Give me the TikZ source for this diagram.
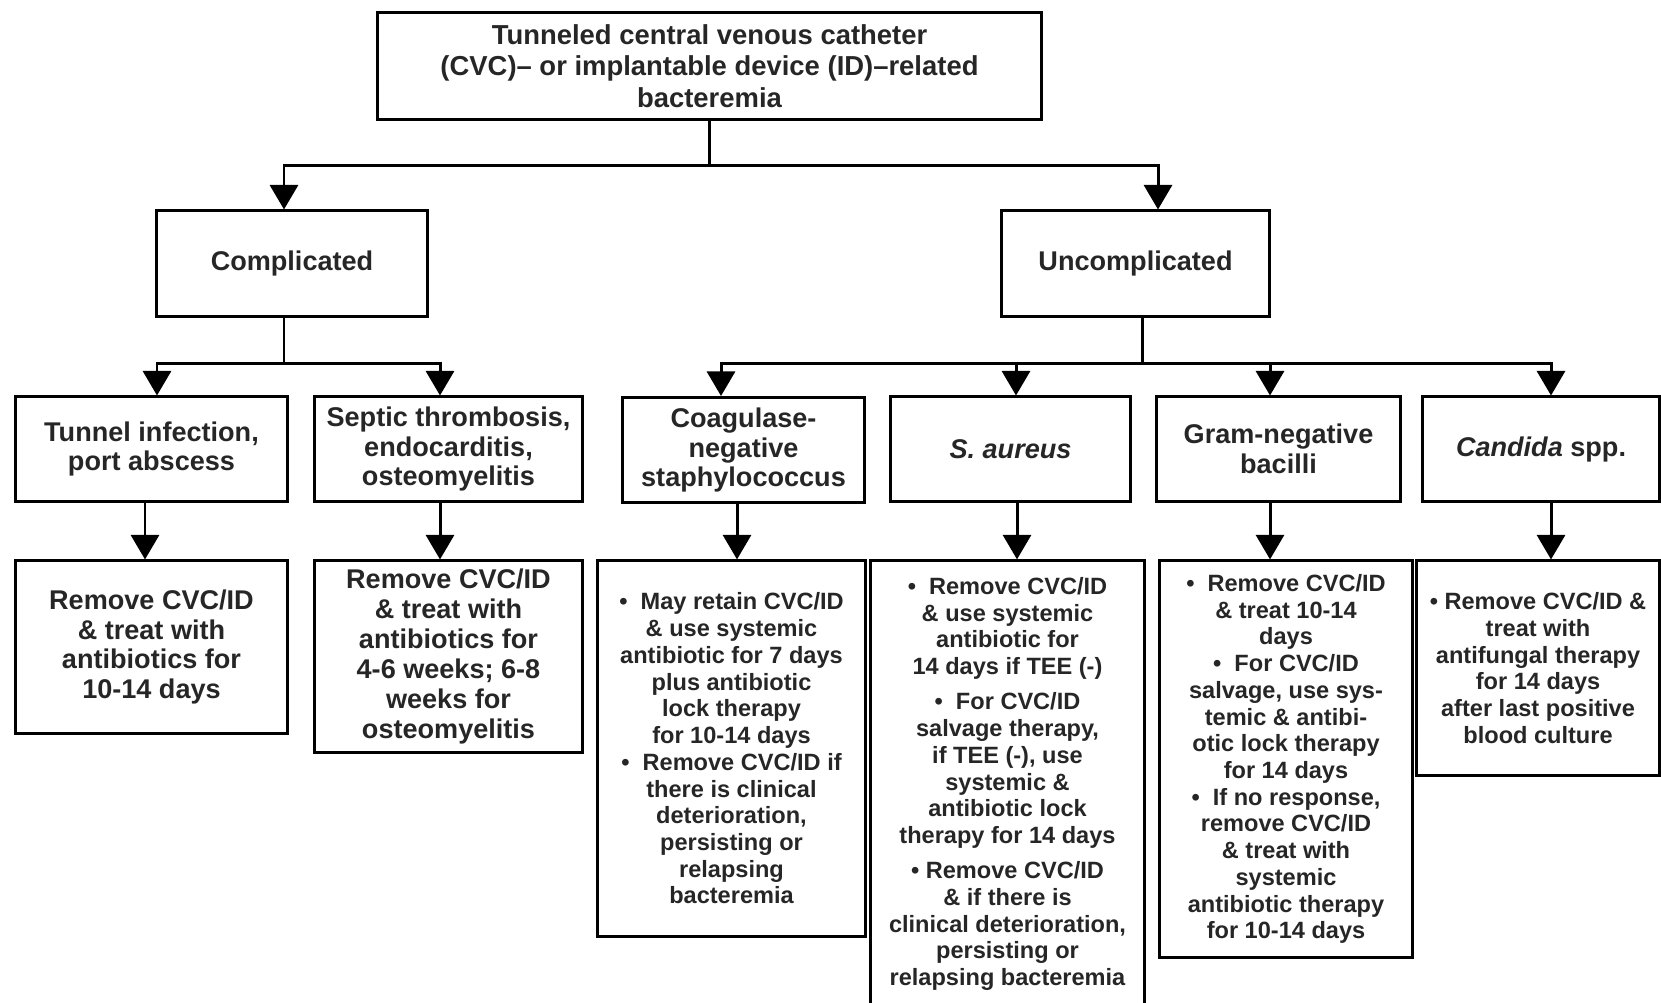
\documentclass[tikz,border=0pt]{standalone}
\usepackage{fontspec}
\setmainfont{Liberation Sans}
\usetikzlibrary{arrows.meta,calc}
\tikzset{
  box/.style={draw, line width=0.85pt, inner sep=0pt, align=center, text=black!85},
  big/.style={box, font=\fontsize{7.8}{9}\selectfont\bfseries},
  mid/.style={box, font=\fontsize{7.7}{8.5}\selectfont\bfseries},
  small/.style={box, font=\fontsize{6.7}{7.6}\selectfont\bfseries},
  ln/.style={line width=0.85pt},
  arr/.style={ln, -{Triangle[length=7pt,width=8pt]}}
}
\begin{document}
\begin{tikzpicture}[x=0.01cm, y=-0.01cm, line join=miter]
\useasboundingbox (0,0) rectangle (1661,1002);
% level 1 and 2
\node[big, minimum width=6.63cm, minimum height=1.06cm] (top) at (709.5,66)
  {Tunneled central venous catheter\\(CVC)-- or implantable device (ID)--related\\bacteremia};
\node[mid, minimum width=2.70cm, minimum height=1.05cm] (comp) at (292,263.5) {Complicated};
\node[mid, minimum width=2.67cm, minimum height=1.05cm] (uncomp) at (1135.5,263.5) {Uncomplicated};
% level 3
\node[mid, minimum width=2.71cm, minimum height=1.04cm] (tun3) at (151.5,449) {Tunnel infection,\\port abscess};
\node[mid, minimum width=2.67cm, minimum height=1.04cm] (sep3) at (448.5,449) {Septic thrombosis,\\endocarditis,\\osteomyelitis};
\node[mid, minimum width=2.41cm, minimum height=1.05cm] (coag3) at (743.5,450) {Coagulase-\\negative\\staphylococcus};
\node[mid, minimum width=2.39cm, minimum height=1.04cm] (saur3) at (1010.5,449) {\textit{S. aureus}};
\node[mid, minimum width=2.43cm, minimum height=1.04cm] (gram3) at (1278.5,449) {Gram-negative\\bacilli};
\node[mid, minimum width=2.36cm, minimum height=1.04cm] (cand3) at (1541,449) {\textit{Candida} spp.};
% level 4
\node[mid, minimum width=2.71cm, minimum height=1.72cm] (tun4) at (151.5,647)
  {Remove CVC/ID\\\& treat with\\antibiotics for\\10-14 days};
\node[mid, minimum width=2.67cm, minimum height=1.91cm] (sep4) at (448.5,656.5)
  {Remove CVC/ID\\\& treat with\\antibiotics for\\4-6 weeks; 6-8\\weeks for\\osteomyelitis};
\node[small, minimum width=2.67cm, minimum height=3.75cm] (coag4) at (731.5,748.5)
  {\textbullet\ \ May retain CVC/ID\\\& use systemic\\antibiotic for 7 days\\plus antibiotic\\lock therapy\\for 10-14 days\\
   \textbullet\ \ Remove CVC/ID if\\there is clinical\\deterioration,\\persisting or\\relapsing\\bacteremia};
\node[small, minimum width=2.73cm, minimum height=4.46cm] (saur4) at (1007.5,784)
  {\textbullet\ \ Remove CVC/ID\\\& use systemic\\antibiotic for\\14 days if TEE (-)\\[2.4pt]
   \textbullet\ \ For CVC/ID\\salvage therapy,\\if TEE (-), use\\systemic \&\\antibiotic lock\\therapy for 14 days\\[2.4pt]
   \textbullet\ Remove CVC/ID\\\& if there is\\clinical deterioration,\\persisting or\\relapsing bacteremia};
\node[small, minimum width=2.52cm, minimum height=3.96cm] (gram4) at (1286,759)
  {\textbullet\ \ Remove CVC/ID\\\& treat 10-14\\days\\\textbullet\ \ For CVC/ID\\salvage, use sys-\\temic \& antibi-\\otic lock therapy\\for 14 days\\
   \textbullet\ \ If no response,\\remove CVC/ID\\\& treat with\\systemic\\antibiotic therapy\\for 10-14 days};
\node[small, minimum width=2.42cm, minimum height=2.14cm] (cand4) at (1538,668)
  {\textbullet\ Remove CVC/ID \&\\treat with\\antifungal therapy\\for 14 days\\after last positive\\blood culture};
% connectors
\coordinate (j0) at (709.5,165);
\draw[ln] (top.south) -- (j0);
\draw[arr] (j0) -| ($(comp.north)+(-8,0)$);
\draw[arr] (j0) -| ($(uncomp.north)+(22.5,0)$);
\coordinate (j1) at ($(comp.south)+(-8,46)$);
\draw[ln] ($(comp.south)+(-8,0)$) -- (j1);
\draw[arr] (j1) -| ($(tun3.north)+(5.5,0)$);
\draw[arr] (j1) -| ($(sep3.north)+(-8.5,0)$);
\coordinate (j2) at ($(uncomp.south)+(6.5,46)$);
\draw[ln] ($(uncomp.south)+(6.5,0)$) -- (j2);
\foreach \n/\s in {coag3/-22.5, saur3/5.5, gram3/-8.5, cand3/10}
  \draw[arr] (j2) -| ($(\n.north)+(\s,0)$);
\foreach \a/\b/\s/\t in {tun3/tun4/-6.5/-6.5, sep3/sep4/-8.5/-8.5, coag3/coag4/-6.5/5.5,
    saur3/saur4/6.5/9.5, gram3/gram4/-8.5/-16, cand3/cand4/10/13}
  \draw[arr] ($(\a.south)+(\s,0)$) -- ($(\b.north)+(\t,0)$);
\end{tikzpicture}
\end{document}
